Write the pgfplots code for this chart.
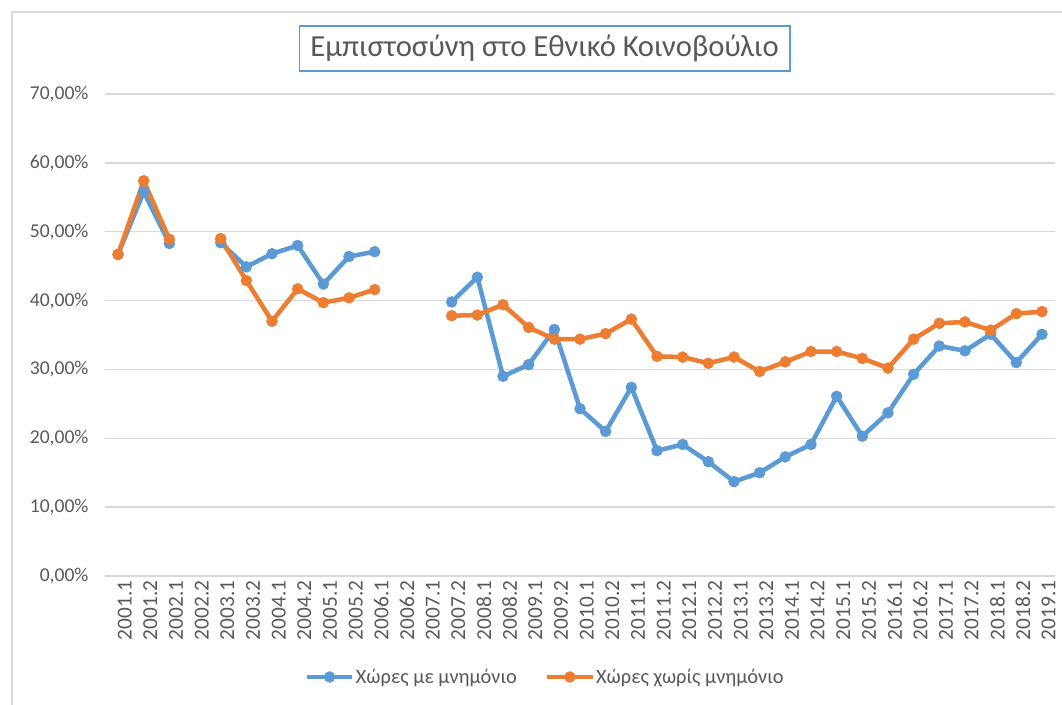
\documentclass[border=0pt]{standalone}
\usepackage{fontspec}
\setmainfont{Carlito}
\usepackage{pgfplots}
\usepackage{pgfplotstable}
\pgfplotsset{compat=1.18}
\definecolor{cblue}{HTML}{5B9BD5}
\definecolor{corange}{HTML}{ED7D31}
\definecolor{ctext}{HTML}{595959}
\definecolor{cgrid}{HTML}{D9D9D9}

\pgfplotstableread{
x a b
0 46.7 46.7
1 55.8 57.4
2 48.3 48.9
3 nan nan
4 48.4 49.0
5 44.9 42.9
6 46.8 37.0
7 48.0 41.7
8 42.4 39.7
9 46.4 40.4
10 47.1 41.6
11 nan nan
12 nan nan
13 39.8 37.8
14 43.4 37.9
15 29.0 39.4
16 30.7 36.1
17 35.8 34.4
18 24.3 34.4
19 21.0 35.2
20 27.4 37.3
21 18.2 31.9
22 19.1 31.8
23 16.6 30.9
24 13.7 31.8
25 15.0 29.7
26 17.3 31.1
27 19.1 32.6
28 26.1 32.6
29 20.3 31.6
30 23.7 30.2
31 29.3 34.4
32 33.4 36.7
33 32.7 36.9
34 35.1 35.7
35 31.0 38.1
36 35.1 38.4
}\data

\begin{document}
\begin{tikzpicture}
\draw[cgrid, line width=1pt] (9pt,-20pt) -- (9pt,519pt) -- (820pt,519pt);
\begin{axis}[
  at={(78.9pt,96pt)}, anchor=south west,
  scale only axis, width=712.2pt, height=361.5pt,
  xmin=-0.5, xmax=36.5, ymin=0, ymax=70,
  axis line style={draw=none},
  ytick={0,10,20,30,40,50,60,70},
  yticklabels={{0,00\%},{10,00\%},{20,00\%},{30,00\%},{40,00\%},{50,00\%},{60,00\%},{70,00\%}},
  xtick={0,...,36},
  xticklabels={2001.1,2001.2,2002.1,2002.2,2003.1,2003.2,2004.1,2004.2,2005.1,2005.2,2006.1,2006.2,2007.1,2007.2,2008.1,2008.2,2009.1,2009.2,2010.1,2010.2,2011.1,2011.2,2012.1,2012.2,2013.1,2013.2,2014.1,2014.2,2015.1,2015.2,2016.1,2016.2,2017.1,2017.2,2018.1,2018.2,2019.1},
  major tick length=0pt,
  ymajorgrids, grid style={cgrid, line width=1pt},
  y tick label style={font=\fontsize{14.7}{17}\selectfont, text=ctext},
  x tick label style={font=\fontsize{16}{18}\selectfont, text=ctext, rotate=90, anchor=east, yshift=-5pt},
  yticklabel style={xshift=-9pt},
  unbounded coords=jump,
  legend columns=2,
  legend style={at={(0.463,-0.2095)}, anchor=center, draw=none, fill=none,
    font=\fontsize{15.3}{18}\selectfont, text=ctext,
    nodes={inner xsep=1pt},
    /tikz/every even column/.append style={column sep=20pt}},
  legend image code/.code={\draw[mark repeat=2,mark phase=2] plot coordinates {(0pt,0pt) (17pt,0pt) (34pt,0pt)};},
]
\draw[cgrid, line width=1pt] (axis cs:-0.5,0) -- (axis cs:36.5,0);
\addplot[cblue, line width=3.4pt, line join=round, mark=*, mark size=4.1pt, mark options={solid, line width=0.4pt, draw=cblue, fill=cblue}] table[x=x,y=a]{\data};
\addlegendentry{Χώρες με μνημόνιο}
\addplot[corange, line width=3.4pt, line join=round, mark=*, mark size=4.1pt, mark options={solid, line width=0.4pt, draw=corange, fill=corange}] table[x=x,y=b]{\data};
\addlegendentry{Χώρες χωρίς μνημόνιο}
\end{axis}
\node[draw=cblue, line width=1pt, minimum width=368pt, minimum height=33.75pt, text=ctext,
  font=\fontsize{23}{27}\selectfont, inner sep=0pt] at (408.4pt,491.6pt) {Εμπιστοσύνη στο Εθνικό Κοινοβούλιο};
\pgfresetboundingbox
\useasboundingbox (0,0) rectangle (796.5pt,528pt);
\end{tikzpicture}
\end{document}
